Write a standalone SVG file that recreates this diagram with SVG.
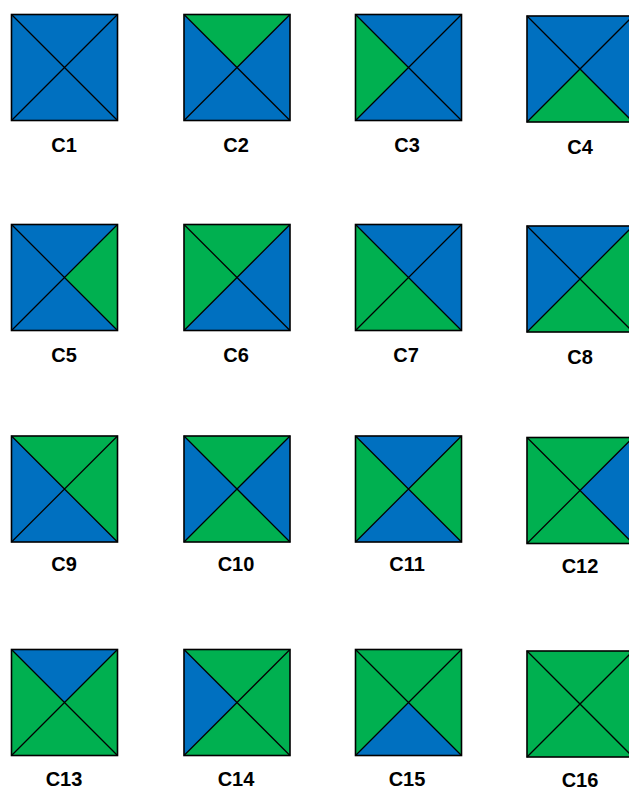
<svg xmlns="http://www.w3.org/2000/svg" xmlns:xlink="http://www.w3.org/1999/xlink" width="629" height="790" viewBox="0 0 629 790">
<style>
.b{fill:#0070C0}
.g{fill:#00B050}
.ln{stroke:#000;stroke-width:1.3;fill:none}
.bd{stroke:#000;stroke-width:1.6;fill:none}
.lbl{font-family:"Liberation Sans",Arial,sans-serif;font-weight:bold;font-size:20px;fill:#000;text-anchor:middle}
</style>
<defs>
<polygon id="T" points="0,0 106,0 53,53"/>
<polygon id="R" points="106,0 106,106 53,53"/>
<polygon id="B" points="0,106 106,106 53,53"/>
<polygon id="L" points="0,0 0,106 53,53"/>
<g id="X"><path class="ln" d="M0,0L106,106M106,0L0,106"/><rect class="bd" x="0" y="0" width="106" height="106"/></g>
</defs>
<rect width="629" height="790" fill="#fff"/>
<g id="C1" transform="translate(11.5,14.5)"><use href="#T" class="b"/><use href="#R" class="b"/><use href="#B" class="b"/><use href="#L" class="b"/><use href="#X"/></g>
<g id="C2" transform="translate(184,14.5)"><use href="#T" class="g"/><use href="#R" class="b"/><use href="#B" class="b"/><use href="#L" class="b"/><use href="#X"/></g>
<g id="C3" transform="translate(355.5,14.5)"><use href="#T" class="b"/><use href="#R" class="b"/><use href="#B" class="b"/><use href="#L" class="g"/><use href="#X"/></g>
<g id="C4" transform="translate(527,16)"><use href="#T" class="b"/><use href="#R" class="b"/><use href="#B" class="g"/><use href="#L" class="b"/><use href="#X"/></g>
<g id="C5" transform="translate(11.5,224.5)"><use href="#T" class="b"/><use href="#R" class="g"/><use href="#B" class="b"/><use href="#L" class="b"/><use href="#X"/></g>
<g id="C6" transform="translate(184,224.5)"><use href="#T" class="g"/><use href="#R" class="b"/><use href="#B" class="b"/><use href="#L" class="g"/><use href="#X"/></g>
<g id="C7" transform="translate(355.5,224.5)"><use href="#T" class="b"/><use href="#R" class="b"/><use href="#B" class="g"/><use href="#L" class="g"/><use href="#X"/></g>
<g id="C8" transform="translate(527,226)"><use href="#T" class="b"/><use href="#R" class="g"/><use href="#B" class="g"/><use href="#L" class="b"/><use href="#X"/></g>
<g id="C9" transform="translate(11.5,436)"><use href="#T" class="g"/><use href="#R" class="g"/><use href="#B" class="b"/><use href="#L" class="b"/><use href="#X"/></g>
<g id="C10" transform="translate(184,436)"><use href="#T" class="g"/><use href="#R" class="b"/><use href="#B" class="g"/><use href="#L" class="b"/><use href="#X"/></g>
<g id="C11" transform="translate(355.5,436)"><use href="#T" class="b"/><use href="#R" class="g"/><use href="#B" class="b"/><use href="#L" class="g"/><use href="#X"/></g>
<g id="C12" transform="translate(527,437.5)"><use href="#T" class="g"/><use href="#R" class="b"/><use href="#B" class="g"/><use href="#L" class="g"/><use href="#X"/></g>
<g id="C13" transform="translate(11.5,649.5)"><use href="#T" class="b"/><use href="#R" class="g"/><use href="#B" class="g"/><use href="#L" class="g"/><use href="#X"/></g>
<g id="C14" transform="translate(184,649.5)"><use href="#T" class="g"/><use href="#R" class="g"/><use href="#B" class="g"/><use href="#L" class="b"/><use href="#X"/></g>
<g id="C15" transform="translate(355.5,649.5)"><use href="#T" class="g"/><use href="#R" class="g"/><use href="#B" class="b"/><use href="#L" class="g"/><use href="#X"/></g>
<g id="C16" transform="translate(527,651)"><use href="#T" class="g"/><use href="#R" class="g"/><use href="#B" class="g"/><use href="#L" class="g"/><use href="#X"/></g>
<g id="labels">
<text class="lbl" x="64" y="152">C1</text>
<text class="lbl" x="236" y="152">C2</text>
<text class="lbl" x="407" y="152">C3</text>
<text class="lbl" x="580" y="154">C4</text>
<text class="lbl" x="64" y="362">C5</text>
<text class="lbl" x="236" y="362">C6</text>
<text class="lbl" x="406" y="362">C7</text>
<text class="lbl" x="580" y="364">C8</text>
<text class="lbl" x="64" y="571">C9</text>
<text class="lbl" x="236" y="571">C10</text>
<text class="lbl" x="407" y="571">C11</text>
<text class="lbl" x="580" y="573">C12</text>
<text class="lbl" x="64" y="786">C13</text>
<text class="lbl" x="236" y="786">C14</text>
<text class="lbl" x="407" y="786">C15</text>
<text class="lbl" x="580" y="787">C16</text>
</g>
</svg>
